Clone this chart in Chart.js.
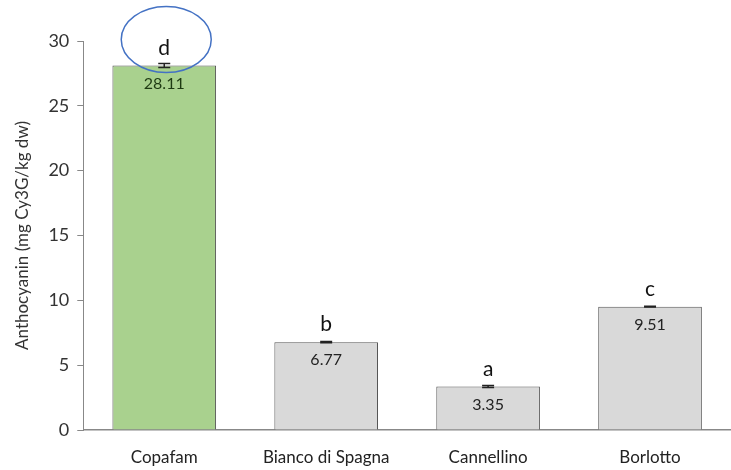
<!DOCTYPE html>
<html lang="en">
<head>
    <meta charset="UTF-8">
    <title>Anthocyanin</title>
    <script src="https://cdn.jsdelivr.net/npm/chart.js"></script>
    <style>
        body { margin: 0; background: #fff; }
        .chart-container { position: relative; width: 731px; height: 470px; }
    </style>
</head>
<body>
    <div class="chart-container">
        <canvas id="anthoChart"></canvas>
    </div>

    <script>
        const categories = ['Copafam', 'Bianco di Spagna', 'Cannellino', 'Borlotto'];
        const values = [28.11, 6.77, 3.35, 9.51];
        const errors = [0.15, 0.05, 0.08, 0.03];
        const letters = ['d', 'b', 'a', 'c'];
        const yTicks = [0, 5, 10, 15, 20, 25, 30];

        const fillColors = ['#a9d18e', '#d9d9d9', '#d9d9d9', '#d9d9d9'];
        const FONT = 'Lato, "Open Sans", sans-serif';

        // error caps, value labels, letters and the circled highlight
        const annotations = {
            id: 'annotations',
            afterDatasetsDraw(chart) {
                const ctx = chart.ctx;
                const x = chart.scales.x, y = chart.scales.y;
                ctx.save();
                values.forEach((v, i) => {
                    const cx = x.getPixelForValue(i);
                    const top = y.getPixelForValue(v + errors[i]);
                    const bot = y.getPixelForValue(v - errors[i]);
                    ctx.strokeStyle = '#222';
                    ctx.lineWidth = 1.5;
                    ctx.beginPath();
                    ctx.moveTo(cx, top); ctx.lineTo(cx, bot);
                    ctx.moveTo(cx - 6, top); ctx.lineTo(cx + 6, top);
                    ctx.moveTo(cx - 6, bot); ctx.lineTo(cx + 6, bot);
                    ctx.stroke();

                    const barTop = y.getPixelForValue(v);
                    ctx.fillStyle = i === 0 ? '#1e3a12' : '#222';
                    ctx.font = '16px ' + FONT;
                    ctx.textAlign = 'center';
                    ctx.textBaseline = 'top';
                    ctx.fillText(v.toFixed(2), cx, barTop + 10);

                    ctx.fillStyle = '#111';
                    ctx.font = '21px ' + FONT;
                    ctx.textBaseline = 'alphabetic';
                    ctx.fillText(letters[i], cx, barTop - 11);
                });

                // blue ellipse around the first letter
                const ex = x.getPixelForValue(0) + 2;
                const ey = y.getPixelForValue(values[0]) - 26;
                ctx.strokeStyle = '#4472c4';
                ctx.lineWidth = 1.5;
                ctx.beginPath();
                ctx.ellipse(ex, ey, 45, 33, 0, 0, Math.PI * 2);
                ctx.stroke();
                ctx.restore();
            }
        };

        const ctx = document.getElementById('anthoChart').getContext('2d');
        new Chart(ctx, {
            type: 'bar',
            data: {
                labels: categories,
                datasets: [{
                    data: values,
                    backgroundColor: fillColors,
                    borderColor: '#555',
                    borderWidth: 1,
                    barPercentage: 0.64,
                    categoryPercentage: 1
                }]
            },
            options: {
                responsive: true,
                maintainAspectRatio: false,
                animation: false,
                layout: { padding: { top: 41, right: 0, bottom: 2, left: 12 } },
                plugins: {
                    legend: { display: false },
                    tooltip: { enabled: false }
                },
                scales: {
                    x: {
                        grid: { display: false },
                        border: { display: true, color: '#888', width: 1.5 },
                        ticks: { color: '#222', font: { family: FONT, size: 17 }, padding: 9, maxRotation: 0 },
                        afterFit(axis) { axis.height = 38; }
                    },
                    y: {
                        min: 0,
                        max: 30,
                        afterBuildTicks(axis) { axis.ticks = yTicks.map(v => ({ value: v })); },
                        grid: { drawOnChartArea: false, drawTicks: true, tickLength: 6, color: '#888' },
                        border: { display: true, color: '#888', width: 1 },
                        ticks: { color: '#333', font: { family: FONT, size: 18 }, padding: 8 },
                        title: {
                            display: true,
                            text: 'Anthocyanin (mg Cy3G/kg dw)',
                            color: '#333',
                            font: { family: FONT, size: 17 },
                            padding: { top: 0, bottom: 8 }
                        }
                    }
                }
            },
            plugins: [annotations]
        });
    </script>
</body>
</html>
